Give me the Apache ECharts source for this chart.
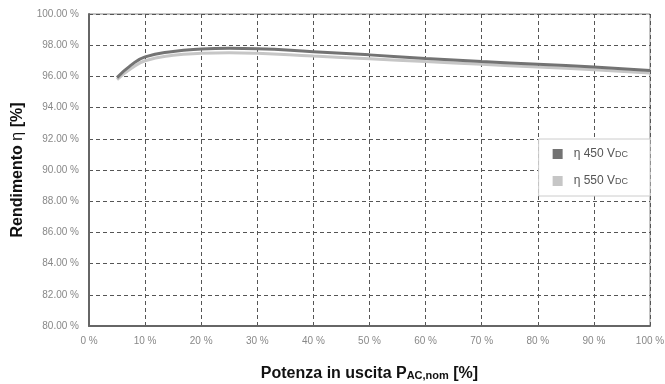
<!DOCTYPE html>
<html>
<head>
<meta charset="utf-8">
<script src="https://cdn.jsdelivr.net/npm/echarts@6/dist/echarts.min.js"></script>
<style>
  html, body { margin: 0; padding: 0; background: #fff; }
  #chart { width: 665px; height: 384px; }
</style>
</head>
<body>
<div id="chart"></div>
<script>
var potenza = [5, 7.5, 10, 15, 20, 25, 30, 40, 50, 60, 70, 80, 90, 100];
var eta450 = [95.92, 96.72, 97.25, 97.6, 97.75, 97.8, 97.78, 97.58, 97.38, 97.15, 96.95, 96.78, 96.6, 96.38];
var eta550 = [95.8, 96.5, 97.0, 97.35, 97.48, 97.52, 97.48, 97.3, 97.13, 96.95, 96.78, 96.6, 96.43, 96.22];
var nomi = ['η 450 V{s|DC}', 'η 550 V{s|DC}'];

var font = "'Liberation Sans Narrow', 'Arial Narrow', 'Liberation Sans', sans-serif";

function coppie(xs, ys) {
  return xs.map(function (x, i) { return [x, ys[i]]; });
}

var chart = echarts.init(document.getElementById('chart'));
chart.setOption({
  animation: false,
  textStyle: { fontFamily: font },
  grid: {
    left: 89, right: 15, top: 14, bottom: 58,
    outerBoundsMode: 'none',
    containLabel: false,
    show: true, borderColor: '#888', borderWidth: 1
  },
  legend: {
    orient: 'vertical',
    right: 15,
    top: 139,
    icon: 'rect',
    itemWidth: 10,
    itemHeight: 10,
    itemGap: 15,
    padding: [9, 22, 9, 14],
    backgroundColor: '#fff',
    borderColor: '#ccc',
    borderWidth: 1,
    textStyle: {
      color: '#555',
      fontSize: 12,
      fontFamily: font,
      padding: [0, 0, 0, 6],
      rich: { s: { fontSize: 9, color: '#555', fontFamily: font, padding: [2, 0, 0, 0] } }
    },
    data: nomi
  },
  xAxis: {
    type: 'value',
    min: 0, max: 100, interval: 10,
    name: 'Potenza in uscita P{s|AC,nom} [%]',
    nameLocation: 'middle',
    nameGap: 40,
    nameTextStyle: {
      color: '#111', fontSize: 16, fontWeight: 'bold', fontFamily: font,
      rich: { s: { fontSize: 11, fontWeight: 'bold', color: '#111', fontFamily: font, padding: [4, 0, 0, 0] } }
    },
    axisLine: { lineStyle: { color: '#666', width: 2 } },
    axisTick: { show: false },
    axisLabel: { color: '#888', fontSize: 10, margin: 10, formatter: '{value} %' },
    splitLine: { lineStyle: { color: '#555', type: [4, 3], width: 1 } }
  },
  yAxis: {
    type: 'value',
    min: 80, max: 100, interval: 2,
    name: 'Rendimento {n|η} [%]',
    nameLocation: 'middle',
    nameGap: 63,
    nameTextStyle: {
      color: '#111', fontSize: 16, fontWeight: 'bold', fontFamily: font,
      rich: { n: { fontSize: 16, fontWeight: 'normal', color: '#111', fontFamily: font } }
    },
    axisLine: { show: true, lineStyle: { color: '#666', width: 2 } },
    axisTick: { show: false },
    axisLabel: {
      color: '#888', fontSize: 10, margin: 10,
      formatter: function (v) { return v.toFixed(2) + ' %'; }
    },
    splitLine: { lineStyle: { color: '#555', type: [4, 3], width: 1 } }
  },
  series: [
    {
      name: nomi[0],
      type: 'line',
      smooth: true,
      symbol: 'none',
      z: 3,
      itemStyle: { color: '#737373' },
      lineStyle: { color: '#737373', width: 3 },
      data: coppie(potenza, eta450)
    },
    {
      name: nomi[1],
      type: 'line',
      smooth: true,
      symbol: 'none',
      z: 2,
      itemStyle: { color: '#c6c6c6' },
      lineStyle: { color: '#c6c6c6', width: 3 },
      data: coppie(potenza, eta550)
    }
  ]
});
</script>
</body>
</html>
